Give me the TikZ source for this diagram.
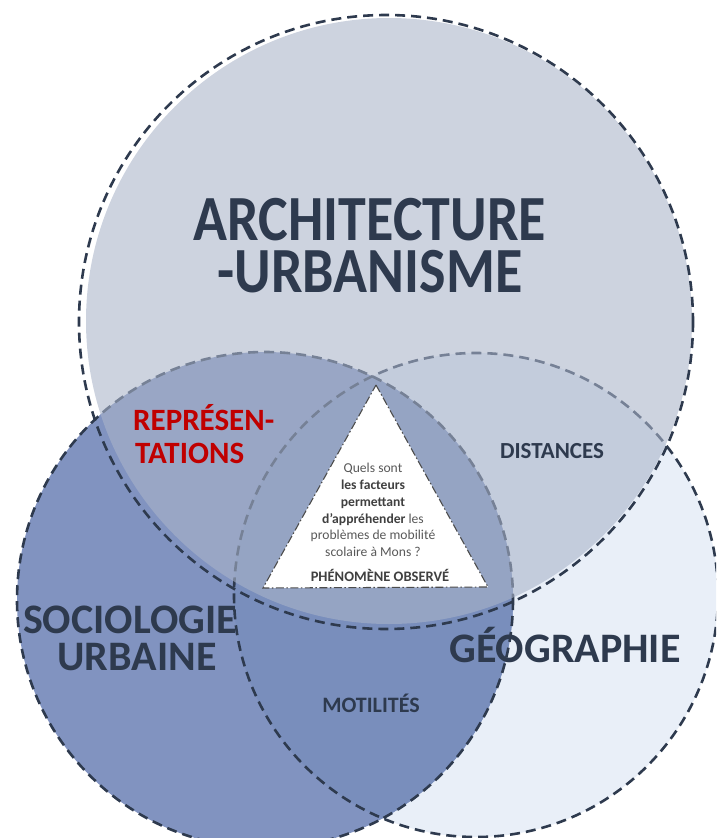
\documentclass[tikz,border=0pt]{standalone}
\usepackage{fontspec}
\setmainfont{Carlito}
\usetikzlibrary{positioning}

\definecolor{ardoise}{RGB}{46,58,78}
\definecolor{archi}{RGB}{170,180,201}
\definecolor{socio}{RGB}{129,147,192}
\definecolor{geo}{RGB}{233,239,248}
\definecolor{motil}{RGB}{121,142,188}
\definecolor{rouge}{RGB}{192,0,0}
\definecolor{gristexte}{RGB}{89,89,89}

\begin{document}
\begin{tikzpicture}[x=1pt,y=-1pt,
  contour/.style={ardoise,line width=2.6pt,dash pattern=on 10pt off 6pt},
  grand/.style={font=\bfseries\fontsize{42}{42}\selectfont,text=ardoise,inner sep=0pt,anchor=base},
  titre/.style={font=\bfseries\fontsize{56}{56}\selectfont,text=ardoise,inner sep=0pt,anchor=base},
  moyen/.style={font=\bfseries\fontsize{23}{23}\selectfont,text=ardoise,inner sep=0pt,anchor=base},
  question/.style={font=\fontsize{13.6}{16.8}\selectfont,text=gristexte,align=center,inner sep=0pt}]
  \useasboundingbox (0,0) rectangle (716,838);
  \clip (0,0) rectangle (716,838);
  % les trois disciplines
  \fill[geo] (476,595) circle (242);
  \fill[socio] (265,600) circle (248);
  \begin{scope} \clip (476,595) circle (242); \fill[motil] (265,600) circle (248); \end{scope}
  \draw[contour] (476,595) circle (242);
  \draw[contour] (265,600) circle (248);
  \fill[archi,opacity=0.59] (389,321) circle (303);
  \draw[contour] (386,322) circle (307);
  % phenomene observe
  \filldraw[fill=white,draw=black!70,line width=1.1pt,dash pattern=on 8pt off 2.5pt on 1.5pt off 2.5pt]
    (376,385) -- (488,587) -- (263,588) -- cycle;
  % textes
  \node[titre] (archi) at (370,240) {\scalebox{1}[1.15]{ARCHITECTURE}};
  \node[titre] (urba) at (370,292) {\scalebox{1}[1.15]{-URBANISME}};
  \node[grand] (socio) at (130,633) {SOCIOLOGIE};
  \node[grand] (urbaine) at (137,670) {URBAINE};
  \node[grand] (geo) at (565,662) {GÉOGRAPHIE};
  \node[moyen,font=\bfseries\fontsize{31}{31}\selectfont,text=rouge,anchor=base west] (repr) at (133,430) {REPRÉSEN-};
  \node[moyen,font=\bfseries\fontsize{31}{31}\selectfont,text=rouge,anchor=base west] (tat) at (135,463) {TATIONS};
  \node[moyen] (dist) at (552,458) {DISTANCES};
  \node[moyen,font=\bfseries\fontsize{22}{22}\selectfont] (moti) at (371,712) {MOTILITÉS};
  \node[question] (quest) at (373,510) {Quels sont\\\textbf{\color{black!75}les facteurs}\\\textbf{\color{black!75}permettant}\\\textbf{\color{black!75}d’appréhender} les\\problèmes de mobilité\\scolaire à Mons ?};
  \node[moyen,font=\bfseries\fontsize{14.5}{14.5}\selectfont,text=black!75] (phen) at (380,581) {PHÉNOMÈNE OBSERVÉ};
\end{tikzpicture}
\end{document}
